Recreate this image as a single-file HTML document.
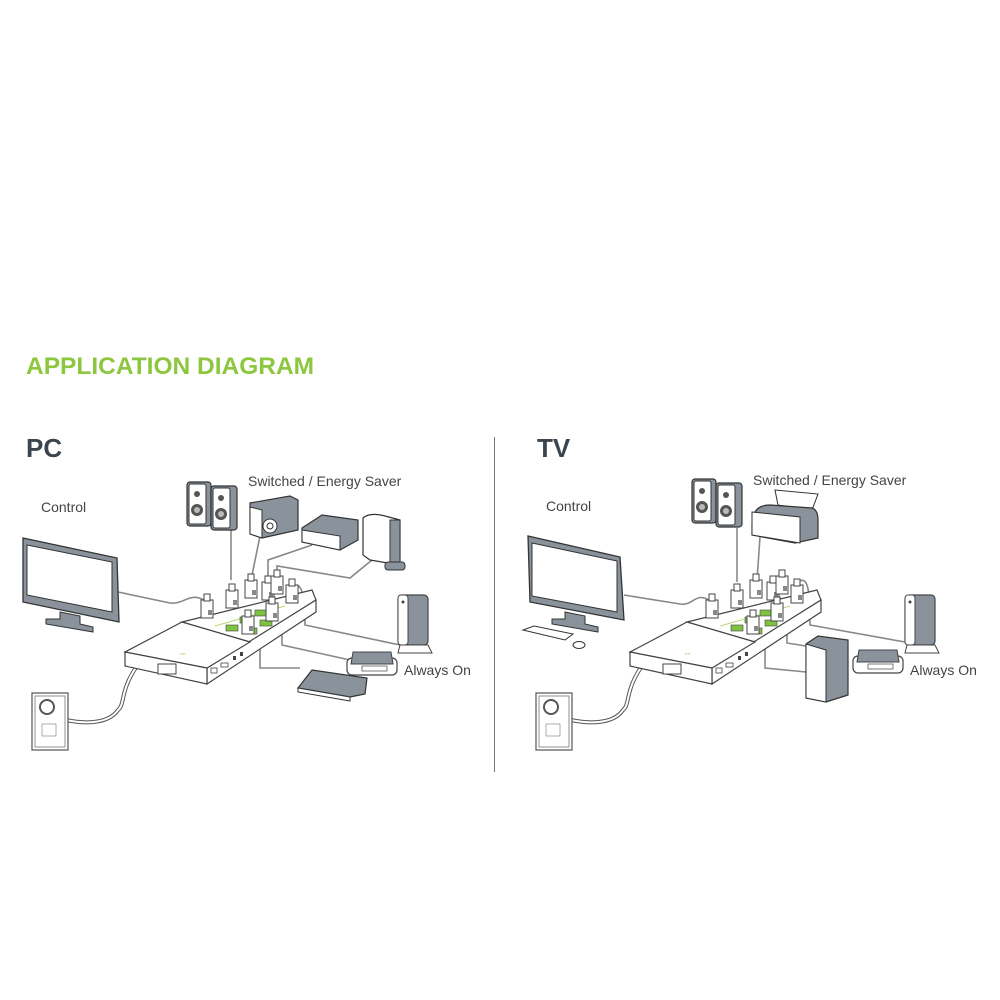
<!DOCTYPE html>
<html><head><style>
body{margin:0;background:#fff;width:1000px;height:1000px;overflow:hidden}
svg{display:block}
text{font-family:"Liberation Sans",Arial,sans-serif}
</style></head><body>
<svg width="1000" height="1000" viewBox="0 0 1000 1000" xmlns="http://www.w3.org/2000/svg">
<defs>
<g id="plug">
<rect x="-6" y="-10" width="12" height="18" fill="#fff" stroke="#444" stroke-width="1"/>
<rect x="-3" y="-16" width="6" height="7" fill="#fff" stroke="#444" stroke-width="1"/>
<rect x="1" y="0" width="4" height="5" fill="#888"/>
</g>
<g id="strip">
<path d="M137,666 C120,690 125,705 118,710 C110,722 90,725 66,720" fill="none" stroke="#555" stroke-width="4"/>
<path d="M137,666 C120,690 125,705 118,710 C110,722 90,725 66,720" fill="none" stroke="#fff" stroke-width="2"/>
<polygon points="182,622 312,590 316,600 250,642" fill="#fff" stroke="#444" stroke-width="1.2"/>
<polygon points="207,668 316,600 316,612 207,684" fill="#fff" stroke="#444" stroke-width="1.2"/>
<line x1="215" y1="626" x2="285" y2="606" stroke="#b9d87a" stroke-width="1"/>
<rect x="226" y="625" width="12" height="6" fill="#7fc241" stroke="#444" stroke-width=".6"/>
<rect x="240" y="617" width="12" height="6" fill="#7fc241" stroke="#444" stroke-width=".6"/>
<rect x="255" y="610" width="12" height="6" fill="#7fc241" stroke="#444" stroke-width=".6"/>
<rect x="245" y="628" width="12" height="6" fill="#7fc241" stroke="#444" stroke-width=".6"/>
<rect x="260" y="620" width="12" height="6" fill="#7fc241" stroke="#444" stroke-width=".6"/>
<use href="#plug" x="207" y="610"/>
<use href="#plug" x="232" y="600"/>
<use href="#plug" x="251" y="590"/>
<use href="#plug" x="268" y="592"/>
<use href="#plug" x="277" y="586"/>
<use href="#plug" x="292" y="595"/>
<use href="#plug" x="272" y="613"/>
<use href="#plug" x="248" y="626"/>
<polygon points="125,652 182,622 250,642 207,668" fill="#fff" stroke="#444" stroke-width="1.2"/>
<polygon points="125,652 207,668 207,684 125,666" fill="#fff" stroke="#444" stroke-width="1.2"/>
<rect x="158" y="664" width="18" height="10" fill="#fff" stroke="#444" stroke-width="1"/>
<rect x="211" y="668" width="6" height="5" fill="#fff" stroke="#444" stroke-width=".8"/>
<rect x="221" y="663" width="7" height="4" fill="#fff" stroke="#444" stroke-width=".8"/>
<rect x="233" y="656" width="3" height="4" fill="#444"/>
<rect x="240" y="652" width="3" height="4" fill="#444"/>
<text x="180" y="655" font-size="4" fill="#9c6">▪▪▪▪</text>
</g>
<g id="outlet">
<rect x="0" y="0" width="36" height="57" fill="#fff" stroke="#555" stroke-width="1.2"/>
<rect x="3" y="3" width="30" height="51" fill="#fff" stroke="#777" stroke-width=".8"/>
<circle cx="15" cy="14" r="7" fill="none" stroke="#555" stroke-width="2"/>
<rect x="10" y="31" width="14" height="12" fill="#fff" stroke="#777" stroke-width=".6"/>
</g>
<g id="speakers">
<rect x="0" y="2" width="24" height="44" rx="3" fill="#8a939b" stroke="#333" stroke-width="1.2"/>
<rect x="2" y="4" width="17" height="40" rx="2" fill="#fff" stroke="#333"/>
<circle cx="10" cy="14" r="3" fill="#555"/><circle cx="10" cy="30" r="6" fill="#555"/><circle cx="10" cy="30" r="3" fill="#bbb"/>
<rect x="24" y="6" width="26" height="44" rx="3" fill="#8a939b" stroke="#333" stroke-width="1.2"/>
<rect x="26" y="8" width="17" height="40" rx="2" fill="#fff" stroke="#333"/>
<circle cx="34" cy="18" r="3" fill="#555"/><circle cx="34" cy="34" r="6" fill="#555"/><circle cx="34" cy="34" r="3" fill="#bbb"/>
</g>
<g id="tower">
<rect x="0" y="2" width="30" height="50" rx="4" fill="#8a939b" stroke="#444" stroke-width="1.2"/>
<rect x="0" y="2" width="10" height="50" rx="3" fill="#fff" stroke="#444"/>
<polygon points="2,52 30,52 34,60 0,60" fill="#fff" stroke="#444"/>
<circle cx="5" cy="9" r="1.5" fill="#444"/>
</g>
<g id="hd">
<rect x="0" y="8" width="50" height="17" rx="5" fill="#fff" stroke="#444" stroke-width="1.2"/>
<polygon points="6,2 44,2 46,14 4,14" fill="#8a939b" stroke="#444"/>
<rect x="15" y="16" width="25" height="5" fill="#fff" stroke="#444" stroke-width=".7"/>
</g>
</defs>

<text x="26" y="374" font-size="24.5" font-weight="bold" fill="#8dc63f">APPLICATION DIAGRAM</text>
<line x1="494.5" y1="437" x2="494.5" y2="772" stroke="#777" stroke-width="1"/>

<text x="26" y="457" font-size="26" font-weight="bold" fill="#3a4550">PC</text>
<text x="248" y="486" font-size="14" fill="#444">Switched / Energy Saver</text>
<text x="41" y="512" font-size="14" fill="#444">Control</text>
<text x="404" y="675" font-size="14" fill="#444">Always On</text>

<g fill="none" stroke="#888" stroke-width="1.6">
<path d="M118,592 L170,603 C185,605 190,590 207,602"/>
<path d="M231,527 L231,580"/>
<path d="M260,536 L251,580"/>
<path d="M312,545 L268,560 L268,584"/>
<path d="M372,560 L350,578 L277,566 L277,578"/>
<path d="M292,588 C300,580 305,590 305,625 L400,645"/>
<path d="M282,600 L282,645 L350,660"/>
<path d="M260,630 L260,668 L300,668"/>
</g>
<use href="#strip"/>
<use href="#outlet" x="32" y="693"/>

<polygon points="23,538 117,558 119,622 23,602" fill="#8a939b" stroke="#333" stroke-width="1.3"/>
<polygon points="27,545 112,562 112,612 27,595" fill="#fff" stroke="#333"/>
<polygon points="60,612 80,616 80,624 93,627 93,632 46,624 46,619 60,619" fill="#8a939b" stroke="#333"/>
<use href="#speakers" x="187" y="480"/>
<polygon points="250,503 290,496 298,500 298,530 262,538 250,534" fill="#8a939b" stroke="#333" stroke-width="1.2"/>
<polygon points="250,507 262,510 262,538 250,534" fill="#fff" stroke="#333"/>
<circle cx="270" cy="526" r="7" fill="#fff" stroke="#333"/><circle cx="270" cy="526" r="3" fill="#fff" stroke="#333"/>
<polygon points="302,528 322,515 358,520 358,540 340,550 302,542" fill="#8a939b" stroke="#333" stroke-width="1.2"/>
<polygon points="302,530 340,536 340,550 302,542" fill="#fff" stroke="#333"/>
<path d="M363,518 Q370,512 385,516 L400,520 L400,565 L370,560 L363,555 Z" fill="#fff" stroke="#333" stroke-width="1.2"/>
<rect x="390" y="520" width="10" height="45" fill="#8a939b" stroke="#333"/>
<rect x="385" y="562" width="20" height="8" rx="3" fill="#8a939b" stroke="#333"/>
<use href="#tower" x="398" y="593"/>
<use href="#hd" x="347" y="650"/>
<polygon points="298,688 312,670 367,678 365,694 350,697" fill="#8a939b" stroke="#333" stroke-width="1.2"/>
<polygon points="298,688 350,697 350,701 298,692" fill="#fff" stroke="#333"/>

<text x="537" y="457" font-size="26" font-weight="bold" fill="#3a4550">TV</text>
<text x="753" y="485" font-size="14" fill="#444">Switched / Energy Saver</text>
<text x="546" y="511" font-size="14" fill="#444">Control</text>
<text x="910" y="675" font-size="14" fill="#444">Always On</text>
<g fill="none" stroke="#888" stroke-width="1.6">
<path d="M624,595 L680,604 C695,606 695,590 712,602"/>
<path d="M737,528 L737,582"/>
<path d="M760,537 L757,580"/>
<path d="M798,582 C808,575 810,590 810,625 L905,642"/>
<path d="M787,600 L787,643 L806,646"/>
<path d="M765,628 L765,668 L806,672"/>
</g>
<g transform="translate(505,0)"><use href="#strip"/></g>
<use href="#outlet" x="536" y="693"/>
<polygon points="528,536 620,557 624,620 530,602" fill="#8a939b" stroke="#333" stroke-width="1.3"/>
<polygon points="532,543 617,561 617,612 532,596" fill="#fff" stroke="#333"/>
<polygon points="565,612 585,616 585,624 598,627 598,632 552,624 552,619 565,619" fill="#8a939b" stroke="#333"/>
<polygon points="523,630 534,626 573,634 565,640" fill="#fff" stroke="#333"/>
<ellipse cx="579" cy="645" rx="6" ry="3.5" fill="#fff" stroke="#333"/>
<use href="#speakers" x="692" y="477"/>
<polygon points="775,490 818,494 812,510 778,505" fill="#fff" stroke="#333"/>
<path d="M752,525 Q752,505 770,505 L812,508 Q818,510 818,520 L818,538 L795,543 L752,535 Z" fill="#8a939b" stroke="#333" stroke-width="1.2"/>
<polygon points="752,512 800,517 800,543 752,535" fill="#fff" stroke="#333"/>
<polygon points="806,644 818,636 848,640 848,695 826,702 806,698" fill="#8a939b" stroke="#333" stroke-width="1.2"/>
<polygon points="806,644 826,650 826,702 806,698" fill="#fff" stroke="#333"/>
<use href="#hd" x="853" y="648"/>
<use href="#tower" x="905" y="593"/>
</svg>
</body></html>
